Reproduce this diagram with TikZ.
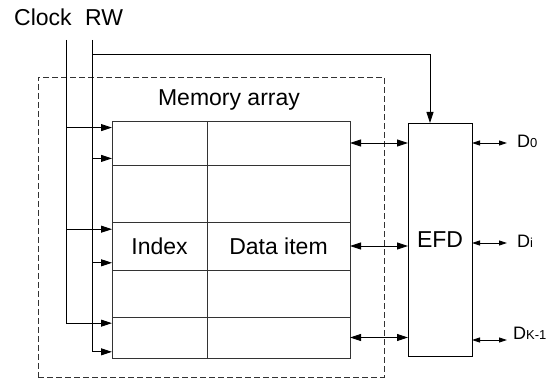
\documentclass[tikz,border=0pt]{standalone}
\usepackage{fontspec}
\setmainfont{Liberation Sans}
\usetikzlibrary{positioning,calc,arrows.meta}

% small index written at the baseline
\newcommand{\dsub}[1]{{\fontsize{13}{13}\selectfont #1}}

\begin{document}
\begin{tikzpicture}[
    x=1pt, y=-1pt,
    font=\fontsize{23}{27}\selectfont,
    cell/.style={rectangle, draw=black!80, line width=0.9pt, inner sep=0pt, outer sep=0pt, minimum width=95pt},
    datacell/.style={cell, minimum width=143pt},
    wire/.style={line width=0.9pt},
    arrow/.style={-{Triangle[length=11pt,width=7pt]}, line width=0.9pt},
    dblarrow/.style={{Triangle[length=11pt,width=7pt]}-{Triangle[length=11pt,width=7pt]}, line width=0.9pt},
    outarrow/.style={{Triangle[length=8pt,width=5pt]}-{Triangle[length=8pt,width=5pt]}, line width=0.9pt},
    dlabel/.style={font=\fontsize{18}{20}\selectfont, inner sep=0pt, anchor=west}
]
\useasboundingbox (0,0) rectangle (552,379);

% Control inputs
\node[anchor=base west, inner sep=0pt] (clocklbl) at (14,26) {Clock};
\node[anchor=base west, inner sep=0pt] (rwlbl) at (85,26) {RW};
\coordinate (clk) at (66,40);
\coordinate (rw) at (92,40);
\coordinate (rwturn) at (92,54);

% Memory block (dashed)
\node[draw=black!80, dash pattern=on 6pt off 3pt, line width=0.9pt, outer sep=0pt,
      minimum width=346pt, minimum height=300pt, anchor=north west] (mem) at (38,77) {};
\node[anchor=base, inner sep=0pt] (memlbl) at (229,106) {Memory array};

% Index column
\node[cell, minimum height=44pt, anchor=north west] (i1) at (112,121) {};
\node[cell, minimum height=57pt, below=0pt of i1] (i2) {};
\node[cell, minimum height=48pt, below=0pt of i2] (i3) {Index};
\node[cell, minimum height=47pt, below=0pt of i3] (i4) {};
\node[cell, minimum height=41pt, below=0pt of i4] (i5) {};

% Data column
\node[datacell, minimum height=44pt, right=0pt of i1] (d1) {};
\node[datacell, minimum height=57pt, right=0pt of i2] (d2) {};
\node[datacell, minimum height=48pt, right=0pt of i3] (d3) {Data item};
\node[datacell, minimum height=47pt, right=0pt of i4] (d4) {};
\node[datacell, minimum height=41pt, right=0pt of i5] (d5) {};

% EFD block
\node[draw, line width=0.9pt, outer sep=0pt, minimum width=64pt, minimum height=233pt,
      anchor=north west] (efd) at (408,123) {EFD};
\coordinate[xshift=-10pt] (efdin) at (efd.north);

% Outputs
\node[dlabel] (dl0) at (517,141) {D\dsub{0}};
\node[dlabel] (dli) at (517,241) {D\dsub{i}};
\node[dlabel] (dlk) at (513,333) {D\dsub{K-1}};
\coordinate (e0) at (507,143);
\coordinate (ei) at (507,243);
\coordinate (ek) at (507,340);

% Clock and RW taps into the rows
\foreach \r in {1,3,5} {
    \coordinate (ck\r) at ($(i\r.north west)!0.15!(i\r.south west)$);
    \coordinate (rd\r) at ($(i\r.north west)!0.85!(i\r.south west)$);
    \draw[arrow] (clk |- ck\r) -- (ck\r);
    \draw[arrow] (rw |- rd\r) -- (rd\r);
    \draw[dblarrow] (d\r.east) -- (efd.west |- d\r.east);
}
\draw[wire] (clk) -- (clk |- ck5);
\draw[wire] (rw) -- (rw |- rd5);
\draw[arrow] (rwturn) -| (efdin);

% Arrows
\draw[outarrow] (efd.east |- e0) -- (e0);
\draw[outarrow] (efd.east |- ei) -- (ei);
\draw[outarrow] (efd.east |- ek) -- (ek);

\end{tikzpicture}
\end{document}
